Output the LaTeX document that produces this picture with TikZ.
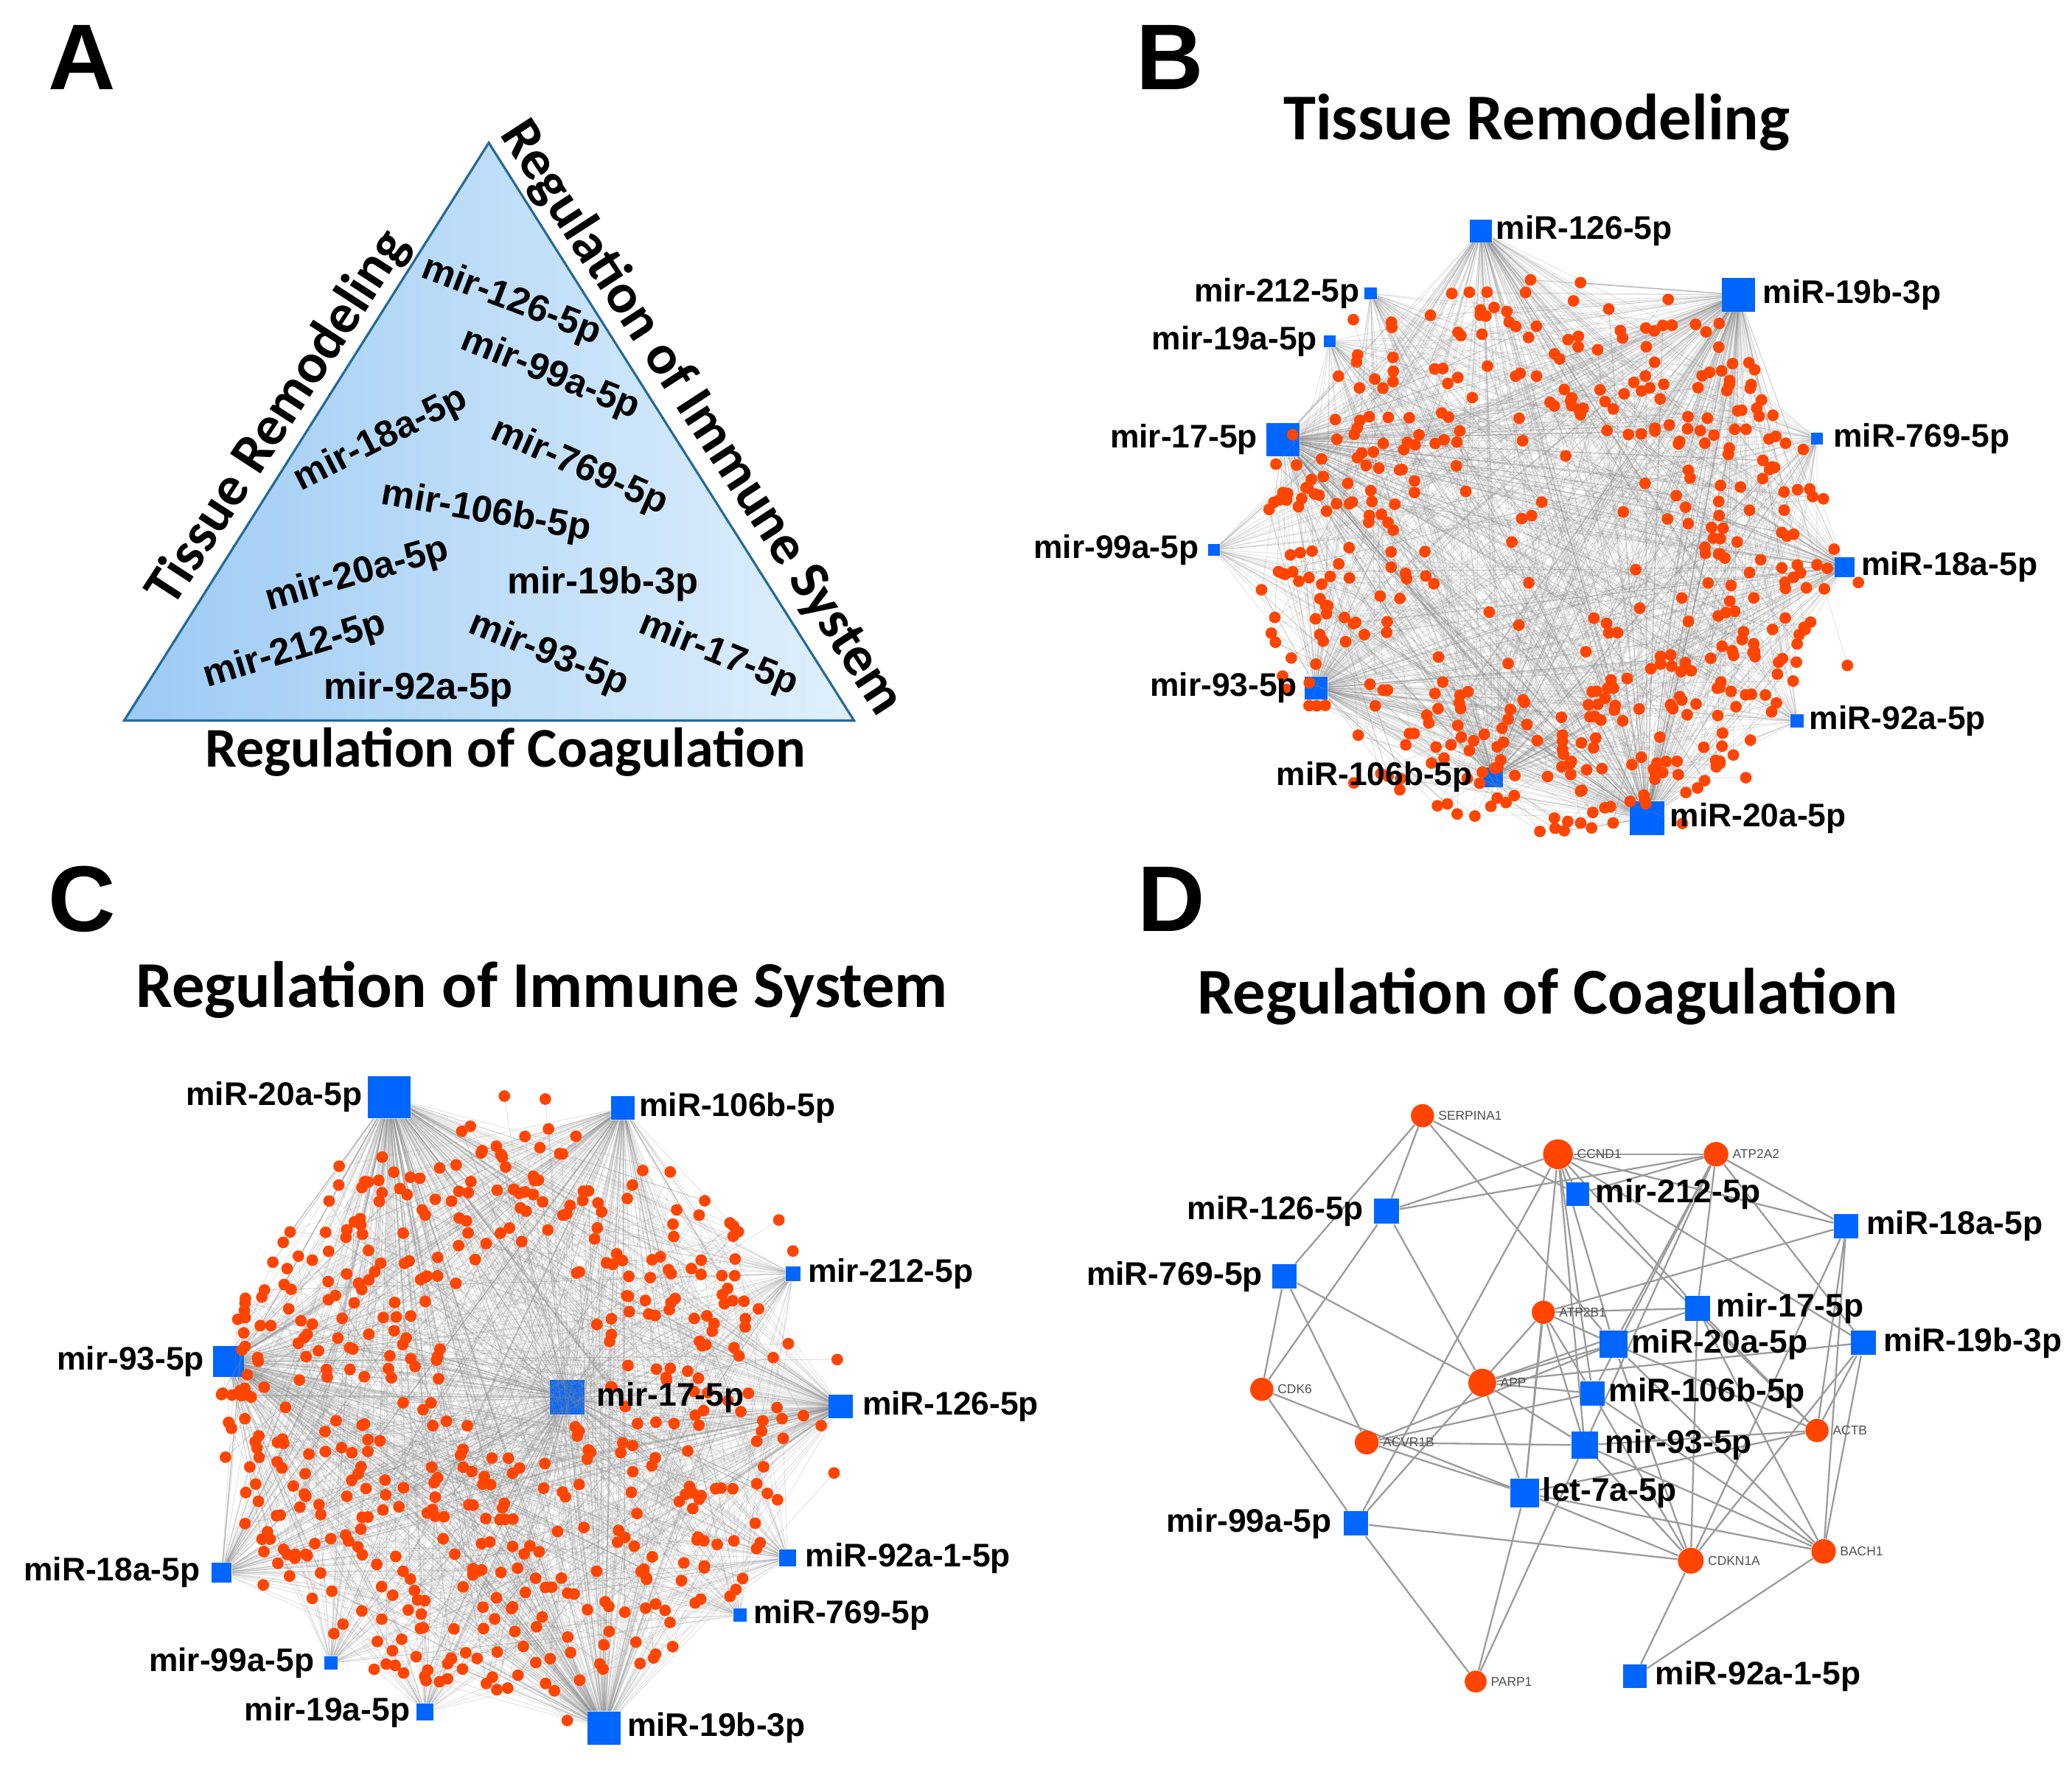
\documentclass[tikz,border=0pt]{standalone}
\usepackage{fontspec}
\setmainfont{Liberation Sans}
\newfontfamily\calfont{Carlito}
\newfontfamily\arfont{Liberation Sans}
\pgfdeclarelayer{bg}
\pgfdeclarelayer{edges}
\pgfsetlayers{bg,edges,main}
\definecolor{hubblue}{RGB}{0,102,255}
\definecolor{dotred}{RGB}{255,69,0}
\definecolor{edgegray}{RGB}{140,140,140}
\definecolor{dgray}{RGB}{155,155,155}
\definecolor{triL}{RGB}{156,202,244}
\definecolor{triR}{RGB}{224,240,252}
\definecolor{triedge}{RGB}{38,104,150}
\definecolor{genetext}{RGB}{80,80,80}
\tikzset{
  panelletter/.style={font=\arfont\bfseries\fontsize{40}{40}\selectfont, inner sep=0},
  paneltitle/.style={font=\calfont\bfseries\fontsize{28}{28}\selectfont, inner sep=0},
  sidelab/.style={font=\calfont\bfseries\fontsize{24}{24}\selectfont, inner sep=0},
  trilab/.style={font=\arfont\bfseries\fontsize{16}{16}\selectfont, inner sep=0},
  hub/.style={rectangle, fill=hubblue, inner sep=0, minimum size=#1*0.2mm},
  hublab/.style={font=\arfont\bfseries\fontsize{14}{14}\selectfont, inner sep=0},
  dot/.style={circle, fill=dotred, inner sep=0, minimum size=1.75mm},
  gene/.style={circle, fill=dotred, inner sep=0, minimum size=#1*0.2mm},
  genelab/.style={font=\arfont\fontsize{5.5}{5.5}\selectfont, text=genetext, inner sep=0, anchor=west},
  netedge/.style={draw=edgegray, draw opacity=0.24, line width=0.3pt},
  dedge/.style={draw=dgray, line width=0.72pt},
}
\pgfmathdeclarerandomlist{hubB}{{bh1}{bh1}{bh1}{bh2}{bh3}{bh3}{bh3}{bh3}{bh4}{bh5}{bh5}{bh5}{bh5}{bh6}{bh7}{bh8}{bh8}{bh9}{bh9}{bh9}{bh10}{bh11}{bh11}{bh11}{bh12}{bh12}{bh12}{bh12}}
\pgfmathdeclarerandomlist{hubC}{{ch1}{ch1}{ch1}{ch1}{ch1}{ch2}{ch2}{ch2}{ch3}{ch4}{ch4}{ch4}{ch4}{ch5}{ch5}{ch5}{ch5}{ch6}{ch6}{ch6}{ch7}{ch8}{ch8}{ch9}{ch10}{ch11}{ch12}{ch12}{ch12}{ch12}}
\begin{document}
\begin{tikzpicture}[x=0.2mm,y=-0.2mm]
\begin{pgfonlayer}{bg}
\fill[white] (0,0) rectangle (1560,1336.35);
\end{pgfonlayer}
\path[use as bounding box] (0,0) rectangle (1560,1336.35);
\pgfmathsetseed{4242}

% ================= Panel A =================
\node[panelletter] (lA) at (62,43) {A};
\coordinate (tA) at (368,107.5);
\coordinate (tL) at (93.5,542.5);
\coordinate (tR) at (643,542.5);
\path[draw=triedge, line width=0.35mm, left color=triL, right color=triR] (tA) -- (tL) -- (tR) -- cycle;
\node[sidelab, rotate=57] (sTR) at (210,315) {Tissue Remodeling};
\node[sidelab, rotate=-57] (sRI) at (528,315) {Regulation of Immune System};
\node[sidelab] (sRC) at (380.5,566) {Regulation of Coagulation};
\node[trilab, rotate=-21] (a126) at (385,227) {mir-126-5p};
\node[trilab, rotate=-22] (a99) at (414,282) {mir-99a-5p};
\node[trilab, rotate=27] (a18) at (287,331) {mir-18a-5p};
\node[trilab, rotate=-24] (a769) at (436,352) {mir-769-5p};
\node[trilab, rotate=-10] (a106) at (366,386) {mir-106b-5p};
\node[trilab, rotate=16] (a20) at (269,433) {mir-20a-5p};
\node[trilab] (a19b) at (454,440) {mir-19b-3p};
\node[trilab, rotate=17] (a212) at (222,490) {mir-212-5p};
\node[trilab, rotate=-22] (a93) at (413,493) {mir-93-5p};
\node[trilab, rotate=-22] (a17) at (541,493) {mir-17-5p};
\node[trilab] (a92) at (315,519) {mir-92a-5p};

% ================= Panel B =================
\node[panelletter] (lB) at (881,43) {B};
\node[paneltitle] (tB) at (1157,92) {Tissue Remodeling};
\node[hub=17] (bh1) at (1115,174) {};
\node[hub=9] (bh2) at (1032,221) {};
\node[hub=25] (bh3) at (1309,222) {};
\node[hub=9] (bh4) at (1001,257) {};
\node[hub=25] (bh5) at (966,331) {};
\node[hub=9] (bh6) at (1368,330) {};
\node[hub=9] (bh7) at (914,414) {};
\node[hub=15] (bh8) at (1389,427) {};
\node[hub=17] (bh9) at (991,518) {};
\node[hub=10] (bh10) at (1353,543) {};
\node[hub=15] (bh11) at (1124,585) {};
\node[hub=26] (bh12) at (1240,616) {};

\foreach \i in {1,...,450}{
  \pgfmathsetmacro{\ang}{360*rnd}
  \pgfmathsetmacro{\rr}{sqrt(1.1025+3.52*rnd)}
  \coordinate (bd\i) at ({1163+100*\rr*cos(\ang)},{418+97*\rr*sin(\ang)});
  \pgfmathrandomitem{\ha}{hubB}
  \pgfmathrandomitem{\hb}{hubB}
  \pgfmathrandomitem{\hc}{hubB}
  \draw[netedge] (\ha) -- (bd\i);
  \draw[netedge] (\hb) -- (bd\i);
  \draw[netedge] (\hc) -- (bd\i);
}
\foreach \i in {451,...,475}{
  \pgfmathsetmacro{\ang}{360*rnd}
  \pgfmathsetmacro{\rr}{1.0*sqrt(rnd)}
  \coordinate (bd\i) at ({1163+100*\rr*cos(\ang)},{418+97*\rr*sin(\ang)});
  \pgfmathrandomitem{\ha}{hubB}
  \pgfmathrandomitem{\hb}{hubB}
  \draw[netedge] (\ha) -- (bd\i);
  \draw[netedge] (\hb) -- (bd\i);
}
\foreach \i in {476,...,486}{
  \pgfmathsetmacro{\ang}{360*rnd}
  \pgfmathsetmacro{\rr}{2.15+0.3*rnd}
  \coordinate (bd\i) at ({1163+100*\rr*cos(\ang)},{418+97*\rr*sin(\ang)});
  \pgfmathrandomitem{\ha}{hubB}
  \draw[netedge] (\ha) -- (bd\i);
}
\foreach \i in {1,...,486}{
  \node[dot] (bdot\i) at (bd\i) {};
}
\node[hublab, anchor=west] (bl1) at (1126,174) {miR-126-5p};
\node[hublab, anchor=east] (bl2) at (1024,221) {mir-212-5p};
\node[hublab, anchor=west] (bl3) at (1327,222) {miR-19b-3p};
\node[hublab, anchor=east] (bl4) at (992,257) {mir-19a-5p};
\node[hublab, anchor=east] (bl5) at (947,331) {mir-17-5p};
\node[hublab, anchor=west] (bl6) at (1380,330) {miR-769-5p};
\node[hublab, anchor=east] (bl7) at (903,414) {mir-99a-5p};
\node[hublab, anchor=west] (bl8) at (1401,427) {miR-18a-5p};
\node[hublab, anchor=east] (bl9) at (977,518) {mir-93-5p};
\node[hublab, anchor=west] (bl10) at (1362,543) {miR-92a-5p};
\node[hublab, anchor=east] (bl11) at (1109,585) {miR-106b-5p};
\node[hublab, anchor=west] (bl12) at (1257,616) {miR-20a-5p};

% ================= Panel C =================
\node[panelletter] (lC) at (62,677) {C};
\node[paneltitle] (tC) at (408,745) {Regulation of Immune System};
\node[hub=32] (ch1) at (293,826) {};
\node[hub=18] (ch2) at (469,834) {};
\node[hub=11] (ch3) at (597,959) {};
\node[hub=23] (ch4) at (172,1025) {};
\node[hub=26] (ch5) at (427,1052) {};
\node[hub=18] (ch6) at (633,1059) {};
\node[hub=13] (ch7) at (593,1173) {};
\node[hub=15] (ch8) at (167,1184) {};
\node[hub=10] (ch9) at (557,1216) {};
\node[hub=10] (ch10) at (249,1252) {};
\node[hub=13] (ch11) at (320,1289) {};
\node[hub=25] (ch12) at (455,1301) {};

\foreach \i in {1,...,580}{
  \pgfmathsetmacro{\ang}{360*rnd}
  \pgfmathsetmacro{\rr}{sqrt(rnd)}
  \pgfmathsetmacro{\px}{386+220*\rr*cos(\ang)}
  \pgfmathsetmacro{\py}{1062+214*\rr*sin(\ang)}
  \pgfmathtruncatemacro{\keep}{((\px-392)/58)^2+((\py-1015)/80)^2 > 1 ? 1 : 0}
  \expandafter\xdef\csname ckeep\i\endcsname{\keep}
  \ifnum\keep=1
    \coordinate (cd\i) at (\px,\py);
    \pgfmathrandomitem{\ha}{hubC}
    \pgfmathrandomitem{\hb}{hubC}
    \pgfmathrandomitem{\hc}{hubC}
    \draw[netedge] (\ha) -- (cd\i);
    \draw[netedge] (\hb) -- (cd\i);
    \draw[netedge] (\hc) -- (cd\i);
  \fi
}
\foreach \i in {581,...,592}{
  \pgfmathsetmacro{\ang}{360*rnd}
  \pgfmathsetmacro{\rr}{1.0+0.15*rnd}
  \expandafter\xdef\csname ckeep\i\endcsname{1}
  \coordinate (cd\i) at ({386+220*\rr*cos(\ang)},{1062+214*\rr*sin(\ang)});
  \pgfmathrandomitem{\ha}{hubC}
  \draw[netedge] (\ha) -- (cd\i);
}
\foreach \i in {1,...,592}{
  \ifnum\csname ckeep\i\endcsname=1
    \node[dot] (cdot\i) at (cd\i) {};
  \fi
}
\node[hublab, anchor=east] (cl1) at (273,826) {miR-20a-5p};
\node[hublab, anchor=west] (cl2) at (481,834) {miR-106b-5p};
\node[hublab, anchor=west] (cl3) at (608,959) {mir-212-5p};
\node[hublab, anchor=east] (cl4) at (154,1025) {mir-93-5p};
\node[hublab, anchor=west] (cl5) at (449,1052) {mir-17-5p};
\node[hublab, anchor=west] (cl6) at (649,1059) {miR-126-5p};
\node[hublab, anchor=west] (cl7) at (606,1173) {miR-92a-1-5p};
\node[hublab, anchor=east] (cl8) at (151,1184) {miR-18a-5p};
\node[hublab, anchor=west] (cl9) at (567,1216) {miR-769-5p};
\node[hublab, anchor=east] (cl10) at (237,1252) {mir-99a-5p};
\node[hublab, anchor=east] (cl11) at (309,1289) {mir-19a-5p};
\node[hublab, anchor=west] (cl12) at (472,1301) {miR-19b-3p};

% ================= Panel D =================
\node[panelletter] (lD) at (882,677) {D};
\node[paneltitle] (tD) at (1165,750) {Regulation of Coagulation};
% genes
\node[gene=17.5] (gS) at (1071,840) {};
\node[genelab] (gSl) at ([xshift=0.5mm]gS.east) {SERPINA1};
\node[gene=22.5] (gC) at (1173,869) {};
\node[genelab] (gCl) at ([xshift=0.5mm]gC.east) {CCND1};
\node[gene=18.5] (gA2) at (1292,869) {};
\node[genelab] (gA2l) at ([xshift=0.5mm]gA2.east) {ATP2A2};
\node[gene=17.5] (gB1) at (1162,988) {};
\node[genelab] (gB1l) at ([xshift=0.5mm]gB1.east) {ATP2B1};
\node[gene=17.5] (gK6) at (950,1046) {};
\node[genelab] (gK6l) at ([xshift=0.5mm]gK6.east) {CDK6};
\node[gene=21] (gP) at (1116,1041) {};
\node[genelab] (gPl) at ([xshift=0.5mm]gP.east) {APP};
\node[gene=18] (gV) at (1029,1086) {};
\node[genelab] (gVl) at ([xshift=0.5mm]gV.east) {ACVR1B};
\node[gene=17.5] (gT) at (1368,1077) {};
\node[genelab] (gTl) at ([xshift=0.5mm]gT.east) {ACTB};
\node[gene=19.5] (gN) at (1273,1175) {};
\node[genelab] (gNl) at ([xshift=0.5mm]gN.east) {CDKN1A};
\node[gene=18.5] (gH) at (1373,1168) {};
\node[genelab] (gHl) at ([xshift=0.5mm]gH.east) {BACH1};
\node[gene=16.5] (gR) at (1111,1266) {};
\node[genelab] (gRl) at ([xshift=0.5mm]gR.east) {PARP1};
% miRNAs
\node[hub=19] (d126) at (1044,912) {};
\node[hublab, anchor=east] (dl126) at (1027,912) {miR-126-5p};
\node[hub=17.5] (d212) at (1188,899) {};
\node[hublab, anchor=west] (dl212) at (1201,899) {mir-212-5p};
\node[hub=18.5] (d18) at (1390,923) {};
\node[hublab, anchor=west] (dl18) at (1405,923) {miR-18a-5p};
\node[hub=18.5] (d769) at (967,961) {};
\node[hublab, anchor=east] (dl769) at (951,961) {miR-769-5p};
\node[hub=18.5] (d17) at (1278,985) {};
\node[hublab, anchor=west] (dl17) at (1292,985) {mir-17-5p};
\node[hub=21] (d20) at (1215,1012) {};
\node[hublab, anchor=west] (dl20) at (1228,1012) {miR-20a-5p};
\node[hub=18.5] (d19b) at (1403,1011) {};
\node[hublab, anchor=west] (dl19b) at (1418,1011) {miR-19b-3p};
\node[hub=18.5] (d106) at (1199,1049) {};
\node[hublab, anchor=west] (dl106) at (1211,1049) {miR-106b-5p};
\node[hub=20] (d93) at (1193,1088) {};
\node[hublab, anchor=west] (dl93) at (1208,1088) {mir-93-5p};
\node[hub=22] (dlet) at (1148,1124) {};
\node[hublab, anchor=west] (dllet) at (1161,1124) {let-7a-5p};
\node[hub=18.5] (d99) at (1021,1147) {};
\node[hublab, anchor=east] (dl99) at (1003,1147) {mir-99a-5p};
\node[hub=17.5] (d92) at (1231,1262) {};
\node[hublab, anchor=west] (dl92) at (1246,1262) {miR-92a-1-5p};
\begin{pgfonlayer}{edges}
\foreach \a/\b in {gS/d769,gS/d126,gS/d212,gS/d20,
  gC/d126,gC/d212,gC/d18,gC/d20,gC/d106,gC/d93,gC/d17,gC/dlet,gC/d99,gC/d19b,gC/gA2,
  gA2/d126,gA2/d18,gA2/d20,gA2/d106,gA2/d93,gA2/d17,gA2/d19b,gA2/d212,
  gB1/d17,gB1/d20,gB1/d106,gB1/d93,gB1/dlet,gB1/d99,gB1/d18,
  gK6/d769,gK6/d126,gK6/d99,gK6/dlet,
  gP/d769,gP/d126,gP/d20,gP/d106,gP/d93,gP/dlet,gP/d17,gP/d19b,
  gV/d769,gV/d106,gV/d93,gV/dlet,gV/d20,
  gT/d93,gT/d19b,gT/d18,gT/d20,gT/dlet,gT/d17,gT/d212,
  gN/d99,gN/dlet,gN/d93,gN/d106,gN/d20,gN/d17,gN/d19b,gN/d18,gN/d92,
  gH/d92,gH/dlet,gH/d93,gH/d106,gH/d20,gH/d19b,gH/d18,gH/d17,
  gR/d99,gR/dlet,gR/d93}
  \draw[dedge] (\a) -- (\b);
\end{pgfonlayer}
\end{tikzpicture}
\end{document}
